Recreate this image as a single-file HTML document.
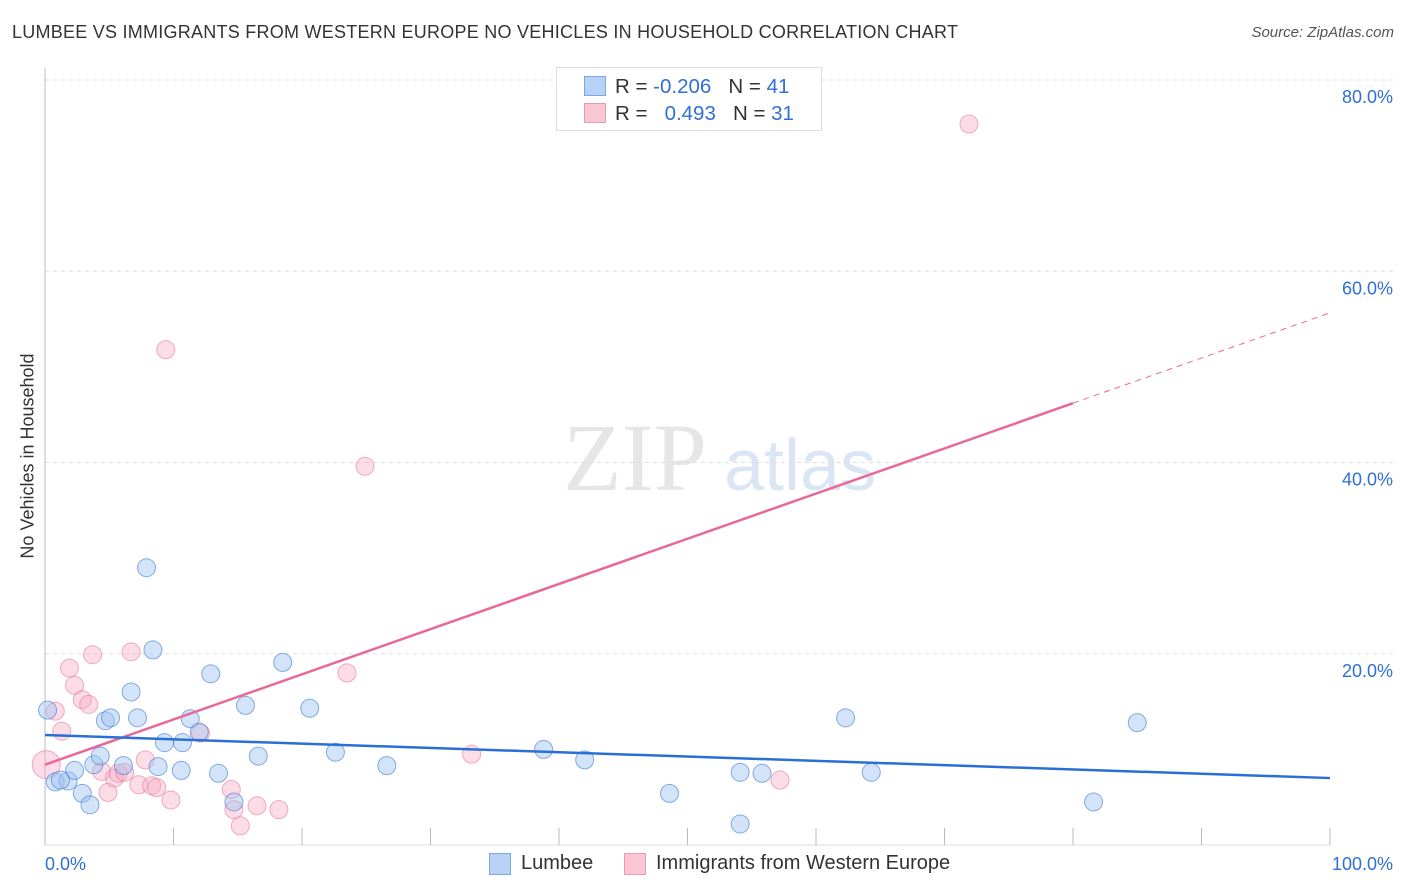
<!DOCTYPE html>
<html><head><meta charset="utf-8">
<style>
body{margin:0;background:#fff;font-family:"Liberation Sans",sans-serif;}
#wrap{position:relative;width:1406px;height:892px;overflow:hidden;}
.t{position:absolute;white-space:nowrap;}
</style></head>
<body>
<div id="wrap">
<div class="t" style="left:12px;top:22px;font-size:18px;color:#333;letter-spacing:0.25px;">LUMBEE VS IMMIGRANTS FROM WESTERN EUROPE NO VEHICLES IN HOUSEHOLD CORRELATION CHART</div>
<div class="t" style="right:12px;top:24px;font-size:15px;color:#555;font-style:italic;">Source: ZipAtlas.com</div>
<svg id="plot" width="1406" height="892" style="position:absolute;left:0;top:0"></svg>
<div class="t" style="left:28px;top:456px;font-size:18px;color:#333;transform:translate(-50%,-50%) rotate(-90deg);">No Vehicles in Household</div>
<div style="position:absolute;left:556px;top:67px;width:264px;height:62px;border:1px solid #ddd;background:#fff;font-size:20.5px;color:#333;">
 <div style="position:absolute;left:27px;top:8px;width:20px;height:18px;background:#b8d2f5;border:1px solid #7aa7e6;"></div>
 <div class="t" style="left:58px;top:7px;">R = <span style="color:#2f6fd6">-0.206</span>&nbsp;&nbsp;&nbsp;N = <span style="color:#2f6fd6">41</span></div>
 <div style="position:absolute;left:27px;top:35px;width:20px;height:18px;background:#f9c6d4;border:1px solid #ec98b0;"></div>
 <div class="t" style="left:58px;top:34px;">R = &nbsp;&nbsp;<span style="color:#2f6fd6">0.493</span>&nbsp;&nbsp;&nbsp;N = <span style="color:#2f6fd6">31</span></div>
</div>
<div style="position:absolute;left:489px;top:852px;font-size:20px;color:#333;">
 <div style="position:absolute;left:0;top:1px;width:20px;height:20px;background:#b8d2f5;border:1px solid #7aa7e6;"></div>
 <div class="t" style="left:32px;top:0;">Lumbee</div>
 <div style="position:absolute;left:135px;top:1px;width:20px;height:20px;background:#f9c6d4;border:1px solid #ec98b0;"></div>
 <div class="t" style="left:167px;top:0;">Immigrants from Western Europe</div>
</div>
</div>
<script>
const blueX=[0.2,0.8,1.8,2.3,2.9,3.5,3.8,4.3,4.7,5.1,6.1,6.7,7.2,7.9,8.4,8.8,9.3,10.6,10.7,11.3,12.0,12.9,13.5,14.7,15.6,16.6,18.5,20.6,22.6,26.6,38.8,42.0,48.6,54.1,54.1,55.8,62.3,64.3,81.6,85.0,1.2];
const blueY=[14.1,6.6,6.7,7.8,5.4,4.2,8.4,9.3,13.0,13.3,8.3,16.0,13.3,29.0,20.4,8.2,10.7,7.8,10.7,13.2,11.8,17.9,7.5,4.5,14.6,9.3,19.1,14.3,9.7,8.3,10.0,8.9,5.4,2.2,7.6,7.5,13.3,7.6,4.5,12.8,6.8];
const pinkX=[0.1,0.8,1.3,1.9,2.3,2.9,3.4,3.7,4.4,4.9,5.4,5.7,6.2,6.7,7.3,7.8,8.3,8.7,9.4,9.8,14.5,14.7,15.2,16.5,18.2,23.5,24.9,33.2,57.2,71.9,12.1];
const pinkY=[8.4,14.0,11.9,18.5,16.7,15.2,14.7,19.9,7.7,5.5,7.0,7.5,7.6,20.2,6.3,8.9,6.2,6.0,51.8,4.7,5.8,3.7,2.0,4.1,3.7,18.0,39.6,9.5,6.8,75.4,11.7];
const blueTrend=[11.5,7.0];
const pinkTrend=[8.4,55.65];
const pinkSolidEnd=80;
const yTicks=[20,40,60,80];
const yTickLabels=["20.0%","40.0%","60.0%","80.0%"];
const xTicks=[0,10,20,30,40,50,60,70,80,90,100];
const xTickLabels=["0.0%","100.0%"];

const X=v=>45+v*12.85, Y=v=>845-v*9.5625;
const svg=document.getElementById('plot');
const NS='http://www.w3.org/2000/svg';
function mk(t,a){const e=document.createElementNS(NS,t);for(const k in a)e.setAttribute(k,a[k]);svg.appendChild(e);return e;}
let w=mk('text',{x:635,y:490,'font-size':96,'font-family':'Liberation Serif,serif',fill:'#e6e6e6','text-anchor':'middle'});w.textContent='ZIP';


w=mk('text',{x:800,y:490,'font-size':72,'font-family':'Liberation Sans,sans-serif',fill:'#dbe6f5','text-anchor':'middle'});w.textContent='atlas';


yTicks.forEach((v,i)=>{
 const g=mk('line',{x1:45,x2:1393,y1:Y(v),y2:Y(v),stroke:'#ddd','stroke-dasharray':'4,4'});
 
 
 const t=mk('text',{x:1393,y:Y(v)+23,'font-size':18,fill:'#2f6fd6','text-anchor':'end','font-family':'Liberation Sans,sans-serif'});
 t.textContent=yTickLabels[i];
 
 
});
let ax=mk('line',{x1:45,x2:45,y1:68,y2:845,stroke:'#bbb'});


ax=mk('line',{x1:45,x2:1330,y1:845,y2:845,stroke:'#ddd'});


xTicks.forEach(v=>{const l=mk('line',{x1:X(v),x2:X(v),y1:828,y2:845,stroke:'#bbb'});
 
 });
let tl=mk('text',{x:45,y:870,'font-size':18,fill:'#2f6fd6','font-family':'Liberation Sans,sans-serif'});tl.textContent=xTickLabels[0];


tl=mk('text',{x:1393,y:870,'font-size':18,fill:'#2f6fd6','text-anchor':'end','font-family':'Liberation Sans,sans-serif'});tl.textContent=xTickLabels[1];



pinkX.forEach((x,i)=>{const c=mk('circle',{cx:X(x),cy:Y(pinkY[i]),r:i==0?14:9,fill:'rgba(247,170,195,0.4)',stroke:'rgba(232,120,155,0.6)','stroke-width':1});
 
 });
blueX.forEach((x,i)=>{const c=mk('circle',{cx:X(x),cy:Y(blueY[i]),r:9,fill:'rgba(160,195,240,0.45)',stroke:'rgba(60,120,210,0.6)','stroke-width':1});
 
 });

const py=x=>pinkTrend[0]+(pinkTrend[1]-pinkTrend[0])*x/100;
let l=mk('line',{x1:X(0),y1:Y(py(0)),x2:X(pinkSolidEnd),y2:Y(py(pinkSolidEnd)),stroke:'#e8689a','stroke-width':2.5});


l=mk('line',{x1:X(pinkSolidEnd),y1:Y(py(pinkSolidEnd)),x2:X(100),y2:Y(py(100)),stroke:'#e8689a','stroke-width':1,'stroke-dasharray':'6,5'});


l=mk('line',{x1:X(0),y1:Y(blueTrend[0]),x2:X(100),y2:Y(blueTrend[1]),stroke:'#2a6fd6','stroke-width':2.5});


</script>
</body></html>
